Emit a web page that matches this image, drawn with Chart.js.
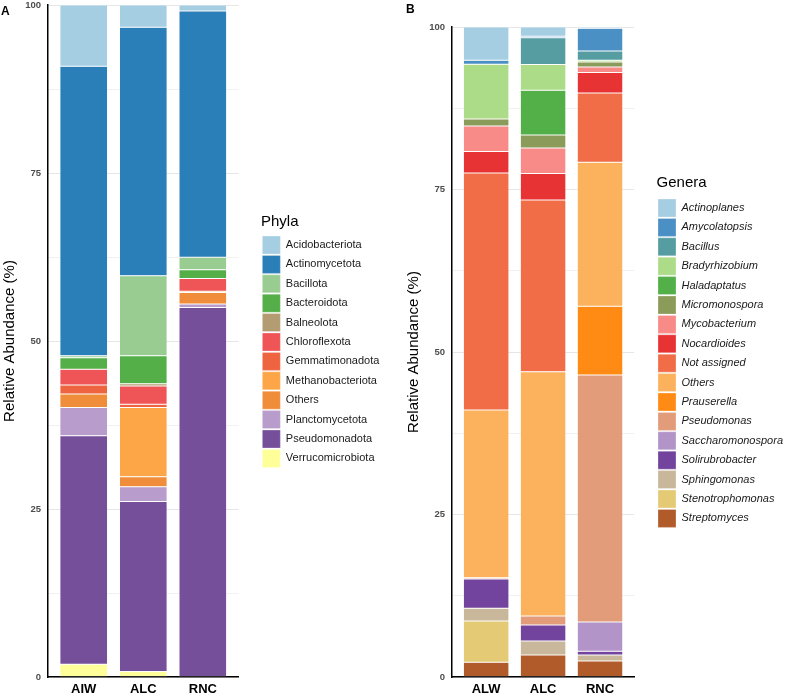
<!DOCTYPE html>
<html>
<head>
<meta charset="utf-8">
<script src="https://cdn.jsdelivr.net/npm/chart.js@4.4.1/dist/chart.umd.min.js"></script>
<style>
  html, body { margin: 0; padding: 0; background: #fff; }
  body { width: 789px; height: 696px; position: relative; overflow: hidden; font-family: "Liberation Sans", Arial, sans-serif; }
  .panel { position: absolute; top: 0; height: 696px; }
  #panelA { left: 0; width: 400px; }
  #panelB { left: 400px; width: 399px; }
  .tag { position: absolute; font-weight: bold; font-size: 12px; line-height: 12px; color: #000; }
</style>
</head>
<body>
<div class="panel" id="panelA"><canvas id="phylaChart"></canvas></div>
<div class="panel" id="panelB"><canvas id="generaChart"></canvas></div>
<div class="tag" style="left:1px; top:5px;">A</div>
<div class="tag" style="left:406px; top:3px;">B</div>
<script>
// panel A: phyla
const samplesA = ["AIW", "ALC", "RNC"];
const phyla = ["Acidobacteriota", "Actinomycetota", "Bacillota", "Bacteroidota", "Balneolota",
  "Chloroflexota", "Gemmatimonadota", "Methanobacteriota", "Others", "Planctomycetota",
  "Pseudomonadota", "Verrucomicrobiota"];
const phylaColors = ["#a6cee3", "#2b7fb8", "#99cc91", "#54af48", "#b39b72", "#ef5457",
  "#ee6440", "#fda647", "#f08d3b", "#b89ccb", "#764f9b", "#ffff99"];
const phylaAIW = [9.1, 43.1, 0.3, 1.7, 0, 2.35, 1.35, 0, 2.0, 4.2, 34.0, 1.9];
const phylaALC = [3.3, 37.0, 11.9, 4.15, 0.35, 2.7, 0.5, 10.3, 1.5, 2.2, 25.3, 0.8];
const phylaRNC = [0.9, 36.65, 1.85, 1.3, 0, 1.9, 0, 0.2, 1.7, 0.5, 55.0, 0];

// panel B: genera
const samplesB = ["ALW", "ALC", "RNC"];
const genera = ["Actinoplanes", "Amycolatopsis", "Bacillus", "Bradyrhizobium", "Haladaptatus",
  "Micromonospora", "Mycobacterium", "Nocardioides", "Not assigned", "Others", "Prauserella",
  "Pseudomonas", "Saccharomonospora", "Solirubrobacter", "Sphingomonas", "Stenotrophomonas",
  "Streptomyces"];
const generaColors = ["#a6cee3", "#4a90c4", "#569da2", "#addc88", "#53af47", "#8b9b5a",
  "#f88a88", "#e73334", "#f06d47", "#fcb25d", "#ff8a14", "#e29c7a", "#b294c8", "#72449d",
  "#c9b79b", "#e5ca76", "#b15a2a"];
const generaALW = [5.1, 0.64, 0, 8.4, 0, 1.08, 3.95, 3.3, 36.47, 25.8, 0, 0.2, 0, 4.5, 1.95, 6.35, 2.26];
const generaALC = [1.4, 0.25, 4.1, 3.96, 6.9, 2.0, 3.9, 4.1, 26.4, 37.6, 0, 1.38, 0, 2.46, 2.16, 0, 3.38];
const generaRNC = [0.2, 3.5, 1.4, 0.3, 0, 0.75, 0.85, 3.15, 10.65, 22.15, 10.6, 38.0, 4.5, 0.57, 0.92, 0, 2.46];

const yTicks = [0, 25, 50, 75, 100];

Chart.defaults.font.family = '"Liberation Sans", Arial, sans-serif';
Chart.defaults.color = "#1a1a1a";

// ggplot stacks the first level on top, chart.js stacks the first dataset at the bottom
function buildDatasets(names, colors, columns) {
  return names.map((name, k) => ({
    label: name,
    data: columns.map((col, i) => ({ x: i, y: col[k] })),
    backgroundColor: colors[k],
    borderColor: "rgba(255,255,255,0.55)",
    borderWidth: 0.5,
    borderSkipped: false,
    barPercentage: 0.8,
    categoryPercentage: 1,
  })).reverse();
}

function makeOptions(samples, cfg) {
  return {
    responsive: true,
    maintainAspectRatio: false,
    animation: false,
    layout: { padding: { top: cfg.top, left: 0, right: cfg.right, bottom: 0 } },
    plugins: {
      tooltip: { enabled: false },
      legend: {
        position: "right",
        align: "start",
        reverse: true,
        maxWidth: 220,
        title: {
          display: true,
          text: cfg.title,
          position: "start",
          color: "#000",
          font: { size: 15 },
          padding: { top: cfg.titleTop, bottom: cfg.titleBottom },
        },
        labels: {
          boxWidth: 18,
          boxHeight: 18,
          padding: 1.4,
          color: "#1a1a1a",
          font: { size: 11, style: cfg.italic ? "italic" : "normal" },
        },
      },
    },
    scales: {
      x: {
        type: "linear",
        stacked: true,
        offset: false,
        min: -0.6,
        max: 2.6,
        grid: { display: false, drawTicks: false },
        border: { display: true, color: "#000", width: 1.5 },
        afterBuildTicks: (axis) => {
          axis.ticks = samples.map((s, i) => ({ value: i }));
        },
        afterFit: (axis) => {
          axis.height = 19;
          axis.paddingLeft = 0;
          axis.paddingRight = 0;
        },
        ticks: {
          autoSkip: false,
          maxRotation: 0,
          padding: 5,
          color: "#000",
          font: { size: 13, weight: "bold" },
          callback: (v) => samples[v],
        },
      },
      y: {
        stacked: true,
        min: 0,
        max: 100,
        afterFit: (axis) => {
          axis.width = cfg.left;
          axis.paddingTop = 0;
          axis.paddingBottom = 0;
        },
        grid: {
          drawTicks: false,
          color: (ctx) => (ctx.tick && yTicks.includes(ctx.tick.value) ? "#e6e6e6" : "#f1f1f1"),
        },
        border: { display: true, color: "#000", width: 1.5 },
        ticks: {
          stepSize: 12.5,
          autoSkip: false,
          padding: 7,
          color: "#4d4d4d",
          font: { size: 9.5, weight: "bold" },
          callback: (v) => (yTicks.includes(v) ? v : ""),
        },
        title: {
          display: true,
          text: "Relative Abundance (%)",
          color: "#000",
          font: { size: 15 },
          padding: { top: cfg.titlePad, bottom: 0 },
        },
      },
      // empty axis, only keeps a gap between the panel and the legend
      gap: {
        type: "linear",
        position: "right",
        display: true,
        grid: { display: false },
        border: { display: false },
        ticks: { display: false },
        afterFit: (axis) => { axis.width = 22.4; },
      },
    },
  };
}

new Chart(document.getElementById("phylaChart"), {
  type: "bar",
  data: { datasets: buildDatasets(phyla, phylaColors, [phylaAIW, phylaALC, phylaRNC]) },
  options: makeOptions(samplesA, {
    top: 5, right: 10.6, left: 48, title: "Phyla", titleTop: 209.5, titleBottom: 2.1,
    titlePad: 0.5, italic: false,
  }),
});

new Chart(document.getElementById("generaChart"), {
  type: "bar",
  data: { datasets: buildDatasets(genera, generaColors, [generaALW, generaALC, generaRNC]) },
  options: makeOptions(samplesB, {
    top: 27, right: 6, left: 52, title: "Genera", titleTop: 148.5, titleBottom: 4.1,
    titlePad: 4.5, italic: true,
  }),
});
</script>
</body>
</html>
